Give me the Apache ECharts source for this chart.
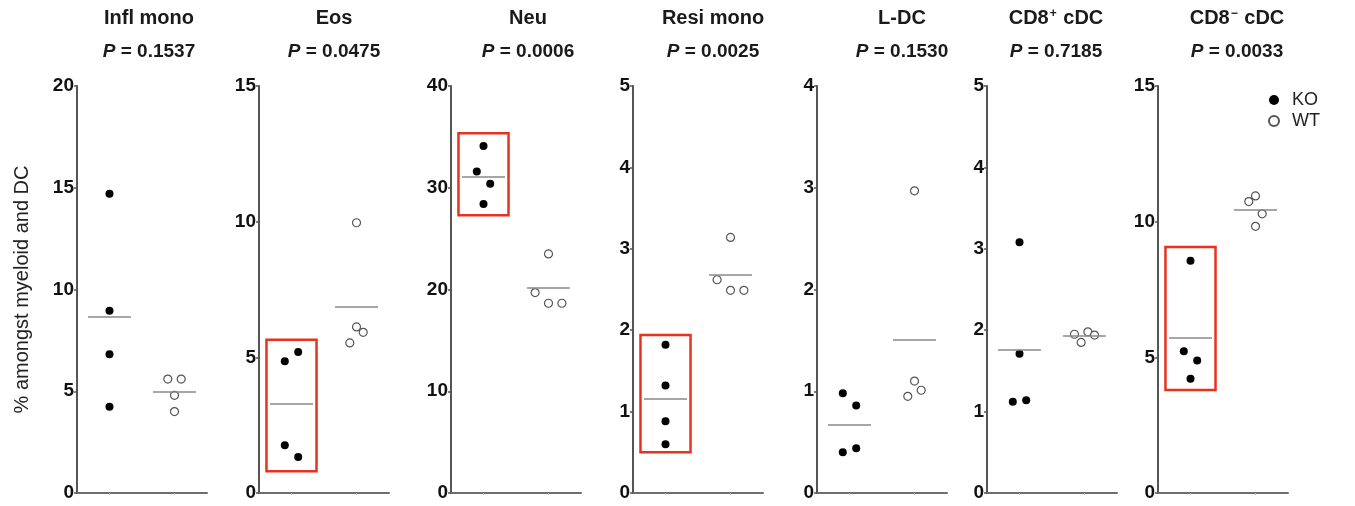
<!DOCTYPE html>
<html><head><meta charset="utf-8">
<script src="https://cdn.jsdelivr.net/npm/echarts@6/dist/echarts.min.js"></script>
<style>html,body{margin:0;padding:0;background:#fff}#c{width:1355px;height:506px}</style>
</head><body><div id="c"></div>
<script>
// ---------- data ----------
const panelNames = ['Infl mono', 'Eos', 'Neu', 'Resi mono', 'L-DC', 'CD8+ cDC', 'CD8− cDC'];
const pValues = ['0.1537', '0.0475', '0.0006', '0.0025', '0.1530', '0.7185', '0.0033'];
const groups = ['KO', 'WT'];
const koValues = [
  [14.7, 8.96, 6.82, 4.24],
  [4.86, 5.2, 1.76, 1.33],
  [34.1, 31.6, 30.4, 28.4],
  [1.82, 1.32, 0.88, 0.60],
  [0.98, 0.86, 0.40, 0.44],
  [3.08, 1.71, 1.12, 1.14],
  [8.56, 5.22, 4.88, 4.21]
];
const wtValues = [
  [5.6, 4.8, 5.6, 4.0],
  [9.96, 5.53, 6.12, 5.92],
  [23.5, 19.7, 18.65, 18.65],
  [3.14, 2.62, 2.49, 2.49],
  [2.97, 0.95, 1.10, 1.01],
  [1.95, 1.85, 1.98, 1.94],
  [10.74, 10.95, 10.29, 9.83]
];
const yMax = [20, 15, 40, 5, 4, 5, 15];
const yStep = [5, 5, 10, 1, 1, 1, 5];
// highlighted KO ranges (red boxes), in data units
const highlightRange = [null, [0.8, 5.65], [27.3, 35.35], [0.5, 1.94], null, null, [3.8, 9.07]];
const yAxisTitle = '% amongst myeloid and DC';

// ---------- layout / style ----------
const FONT = "'Liberation Sans', Arial, sans-serif";
const gridLeft = [77, 259, 451, 633, 817, 987, 1158];
const titleX = [149, 334, 528, 713, 902, 1056, 1237];
const GRID_TOP = 86, GRID_H = 407, GRID_W = 130;
const X_MIN = 0.5, X_MAX = 2.5;
const SYM = 8;
const MEAN_HALF = 0.33;
const BOX_HALF = 0.385;
const ROW_PX = 20;      // points within this vertical distance share a row
const SLOT_PX = 6.7;    // horizontal slot spacing in a row
const MIN_DIST = 7;     // minimum centre distance before slots widen

function mean(a) { return a.reduce((s, v) => s + v, 0) / a.length; }

// GraphPad-like row spreading; returns x offsets in axis units
function spread(values, pxPerY, pxPerX) {
  const order = values.map((v, i) => i).sort((a, b) => values[b] - values[a]);
  const rows = [];
  let cur = null;
  for (const i of order) {
    if (cur && (values[cur[0]] - values[i]) * pxPerY <= ROW_PX) cur.push(i);
    else { cur = [i]; rows.push(cur); }
  }
  const offs = new Array(values.length).fill(0);
  rows.forEach(row => {
    const members = row.slice().sort((a, b) => a - b); // data order
    const n = members.length;
    let slot = n === 2 ? 2 * SLOT_PX : SLOT_PX;
    for (let k = 0; k < 3; k++) {
      let ok = true;
      for (let a = 0; a < n; a++) for (let b = a + 1; b < n; b++) {
        const dx = (b - a) * slot;
        const dy = (values[members[a]] - values[members[b]]) * pxPerY;
        if (Math.sqrt(dx * dx + dy * dy) < MIN_DIST) ok = false;
      }
      if (ok) break;
      slot *= 2;
    }
    members.forEach((idx, k) => { offs[idx] = (k - (n - 1) / 2) * slot / pxPerX; });
  });
  return offs;
}

const grids = [], xAxes = [], yAxes = [], series = [], graphics = [];
const pxPerX = GRID_W / (X_MAX - X_MIN);

panelNames.forEach((name, i) => {
  grids.push({ left: gridLeft[i], top: GRID_TOP, width: GRID_W, height: GRID_H, containLabel: false });
  xAxes.push({
    type: 'value', gridIndex: i, min: X_MIN, max: X_MAX,
    axisLine: { show: true, onZero: false, lineStyle: { color: '#6e6e6e', width: 2 } },
    axisTick: { show: true, customValues: [1, 2], length: 2, lineStyle: { color: '#bbb', width: 1 } },
    axisLabel: { show: false },
    splitLine: { show: false }
  });
  yAxes.push({
    type: 'value', gridIndex: i, min: 0, max: yMax[i], interval: yStep[i],
    name: i === 0 ? yAxisTitle : '',
    nameLocation: 'middle', nameGap: 45, nameRotate: 90,
    nameTextStyle: { fontFamily: FONT, fontSize: 20, color: '#222' },
    axisLine: { show: true, lineStyle: { color: '#555', width: 2 } },
    axisTick: { show: true, length: 3, lineStyle: { color: '#555', width: 1.5 } },
    axisLabel: { margin: 3, fontFamily: FONT, fontSize: 19, fontWeight: 'bold', color: '#111' },
    splitLine: { show: false }
  });

  const pxPerY = GRID_H / yMax[i];
  [koValues[i], wtValues[i]].forEach((vals, g) => {
    const center = g + 1;
    const offs = spread(vals, pxPerY, pxPerX);
    const m = mean(vals);
    const s = {
      type: 'scatter', name: groups[g], xAxisIndex: i, yAxisIndex: i,
      symbol: 'circle', symbolSize: SYM,
      data: vals.map((v, j) => [center + offs[j], v]),
      itemStyle: g === 0 ? { color: '#000', opacity: 1 } : { color: '#fff', borderColor: '#555', borderWidth: 1.2, opacity: 1 },
      emphasis: { disabled: true },
      markLine: {
        silent: true, symbol: ['none', 'none'], animation: false,
        label: { show: false },
        lineStyle: { color: '#888', width: 1.5, type: 'solid' },
        emphasis: { disabled: true },
        data: [[{ coord: [center - MEAN_HALF, m] }, { coord: [center + MEAN_HALF, m] }]]
      },
      z: 3
    };
    if (g === 0 && highlightRange[i]) {
      const r = highlightRange[i];
      s.markArea = {
        silent: true, animation: false,
        itemStyle: { color: 'rgba(0,0,0,0)', borderColor: '#e8321e', borderWidth: 2.5 },
        label: { show: false },
        emphasis: { disabled: true },
        data: [[{ coord: [center - BOX_HALF, r[0]] }, { coord: [center + BOX_HALF, r[1]] }]]
      };
    }
    series.push(s);
  });

  // panel title
  let titleText;
  if (name.indexOf('CD8') === 0) {
    const sup = name.charAt(3);
    titleText = '{b|CD8}{s|' + sup + '}{b|' + name.slice(4) + '}';
  } else {
    titleText = '{b|' + name + '}';
  }
  graphics.push({
    type: 'text', x: titleX[i], y: 18,
    style: {
      text: titleText, align: 'center', verticalAlign: 'middle',
      rich: {
        b: { fontFamily: FONT, fontSize: 20, fontWeight: 'bold', fill: '#1a1a1a' },
        s: { fontFamily: FONT, fontSize: 12, fontWeight: 'bold', fill: '#1a1a1a', verticalAlign: 'top', padding: [0, 1, 0, 1] }
      }
    }
  });
  graphics.push({
    type: 'text', x: titleX[i], y: 52,
    style: {
      text: '{i|P}{b| = ' + pValues[i] + '}', align: 'center', verticalAlign: 'middle',
      rich: {
        i: { fontFamily: FONT, fontSize: 19, fontWeight: 'bold', fontStyle: 'italic', fill: '#1a1a1a' },
        b: { fontFamily: FONT, fontSize: 19, fontWeight: 'bold', fill: '#1a1a1a' }
      }
    }
  });
});

const chart = echarts.init(document.getElementById('c'), null, { renderer: 'canvas' });
chart.setOption({
  animation: false,
  backgroundColor: '#fff',
  grid: grids, xAxis: xAxes, yAxis: yAxes, series: series,
  legend: {
    data: groups, orient: 'vertical', left: 1268, top: 91,
    itemWidth: 10, itemHeight: 10, itemGap: 3, padding: 0,
    icon: 'circle',
    textStyle: { fontFamily: FONT, fontSize: 18, color: '#222', padding: [0, 0, 0, 8] },
    selectedMode: false
  },
  graphic: graphics
});
</script>
</body></html>
